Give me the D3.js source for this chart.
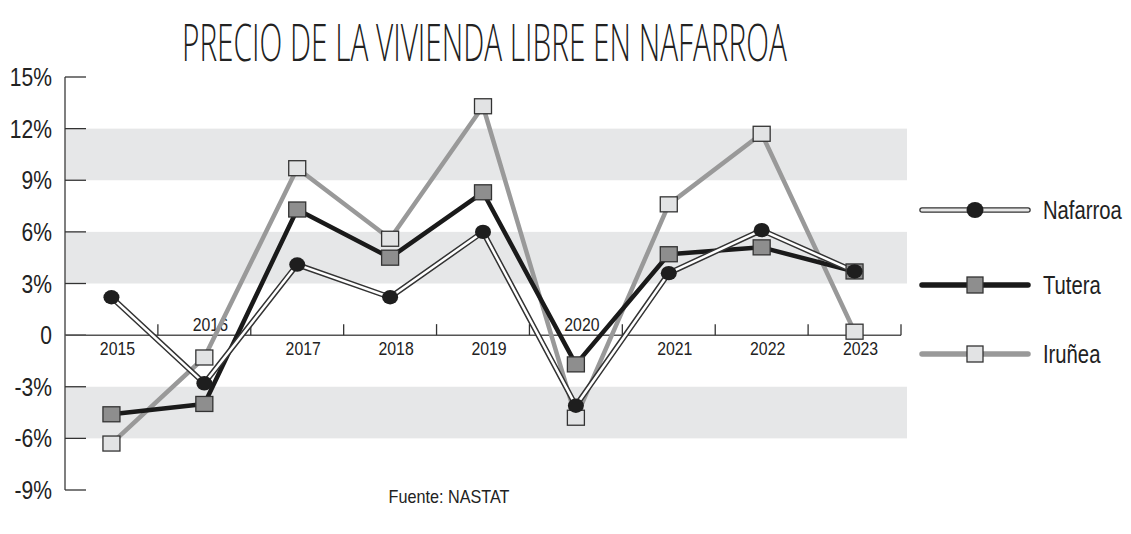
<!DOCTYPE html>
<html>
<head>
<meta charset="utf-8">
<script src="https://cdn.jsdelivr.net/npm/d3@7"></script>
<style>
  body { margin: 0; background: #fff; }
  text { font-family: "Liberation Sans", Arial, sans-serif; fill: #222; }
</style>
</head>
<body>
<svg id="chart" width="1131" height="534"></svg>
<script>
// datos
const years = ["2015","2016","2017","2018","2019","2020","2021","2022","2023"];
const nafarroa = [2.2, -2.8, 4.1, 2.2, 6.0, -4.1, 3.6, 6.1, 3.7];
const tutera   = [-4.6, -4.0, 7.3, 4.5, 8.3, -1.7, 4.7, 5.1, 3.7];
const irunea   = [-6.3, -1.3, 9.7, 5.6, 13.3, -4.8, 7.6, 11.7, 0.2];
const yTicks = [15, 12, 9, 6, 3, 0, -3, -6, -9];
const yTickLabels = ["15%","12%","9%","6%","3%","0","-3%","-6%","-9%"];
const bands = [[9, 12], [3, 6], [-6, -3]];
const labelsAbove = ["2016", "2020"];
const seriesNames = ["Nafarroa", "Tutera", "Iruñea"];

const svg = d3.select("#chart");
const narrow = 0.81; // letra estrecha

const x = d3.scaleBand().domain(years).range([65, 901]).padding(0);
const y = d3.scaleLinear().domain([-9, 15]).range([490, 77]);
const cx = d => x(d) + x.bandwidth() / 2;

// franjas grises
svg.selectAll("rect.band").data(bands).enter().append("rect")
  .attr("class", "band")
  .attr("x", 65).attr("width", 907 - 65)
  .attr("y", d => y(d[1])).attr("height", d => y(d[0]) - y(d[1]))
  .attr("fill", "#e6e7e8");

// eje y
svg.append("line").attr("x1", 65).attr("x2", 65).attr("y1", y(15)).attr("y2", y(-9))
  .attr("stroke", "#555").attr("stroke-width", 1.5);
svg.selectAll("line.ytick").data(yTicks).enter().append("line")
  .attr("x1", 65).attr("x2", 86).attr("y1", d => y(d)).attr("y2", d => y(d))
  .attr("stroke", "#333").attr("stroke-width", 1.3);
svg.selectAll("text.ylab").data(yTicks).enter().append("text")
  .attr("transform", d => `translate(52,${y(d) + 9}) scale(${narrow},1)`)
  .attr("text-anchor", "end").attr("font-size", 26)
  .text((d, i) => yTickLabels[i]);

// eje x
svg.append("line").attr("x1", 65).attr("x2", 901).attr("y1", y(0)).attr("y2", y(0))
  .attr("stroke", "#555").attr("stroke-width", 1.5);
svg.selectAll("line.xtick").data(years).enter().append("line")
  .attr("x1", d => x(d) + x.bandwidth()).attr("x2", d => x(d) + x.bandwidth())
  .attr("y1", y(0)).attr("y2", y(0) - 11)
  .attr("stroke", "#333").attr("stroke-width", 1.3);
svg.selectAll("text.xlab").data(years).enter().append("text")
  .attr("transform", d => `translate(${cx(d) + 6},${labelsAbove.includes(d) ? y(0) - 4 : y(0) + 20}) scale(0.88,1)`)
  .attr("text-anchor", "middle").attr("font-size", 18)
  .text(d => d);

// lineas
const line = vals => d3.line().x((d, i) => cx(years[i])).y(d => y(d))(vals);

svg.append("path").attr("d", line(irunea)).attr("fill", "none")
  .attr("stroke", "#999").attr("stroke-width", 4.5).attr("stroke-linejoin", "round");
svg.append("path").attr("d", line(tutera)).attr("fill", "none")
  .attr("stroke", "#1a1a1a").attr("stroke-width", 4.5).attr("stroke-linejoin", "round");
svg.append("path").attr("d", line(nafarroa)).attr("fill", "none")
  .attr("stroke", "#333").attr("stroke-width", 5.5).attr("stroke-linejoin", "round");
svg.append("path").attr("d", line(nafarroa)).attr("fill", "none")
  .attr("stroke", "#fff").attr("stroke-width", 2.5).attr("stroke-linejoin", "round");

// marcadores
function squares(vals, fill) {
  svg.selectAll(null).data(vals).enter().append("rect")
    .attr("x", (d, i) => cx(years[i]) - 8.5).attr("y", d => y(d) - 7.5)
    .attr("width", 17).attr("height", 15)
    .attr("fill", fill).attr("stroke", "#333").attr("stroke-width", 1.3);
}
squares(irunea, "#e2e3e4");
squares(tutera, "#8e8e8e");
svg.selectAll(null).data(nafarroa).enter().append("ellipse")
  .attr("cx", (d, i) => cx(years[i])).attr("cy", d => y(d))
  .attr("rx", 8).attr("ry", 7.2).attr("fill", "#1e1e1e");

// leyenda
const legY = [210, 285, 354];
const lg = svg.append("g");
// Nafarroa
lg.append("line").attr("x1", 922).attr("x2", 1028).attr("y1", legY[0]).attr("y2", legY[0])
  .attr("stroke", "#333").attr("stroke-width", 5.5).attr("stroke-linecap", "round");
lg.append("line").attr("x1", 922).attr("x2", 1028).attr("y1", legY[0]).attr("y2", legY[0])
  .attr("stroke", "#e8e8e8").attr("stroke-width", 3).attr("stroke-linecap", "round");
lg.append("ellipse").attr("cx", 975).attr("cy", legY[0]).attr("rx", 8.5).attr("ry", 8).attr("fill", "#1e1e1e");
// Tutera
lg.append("line").attr("x1", 922).attr("x2", 1028).attr("y1", legY[1]).attr("y2", legY[1])
  .attr("stroke", "#1a1a1a").attr("stroke-width", 5.5).attr("stroke-linecap", "round");
lg.append("rect").attr("x", 967).attr("y", legY[1] - 8).attr("width", 16).attr("height", 16)
  .attr("fill", "#8e8e8e").attr("stroke", "#333").attr("stroke-width", 1.3);
// Iruñea
lg.append("line").attr("x1", 922).attr("x2", 1028).attr("y1", legY[2]).attr("y2", legY[2])
  .attr("stroke", "#999").attr("stroke-width", 5.5).attr("stroke-linecap", "round");
lg.append("rect").attr("x", 967).attr("y", legY[2] - 8).attr("width", 16).attr("height", 16)
  .attr("fill", "#e2e3e4").attr("stroke", "#333").attr("stroke-width", 1.3);
lg.selectAll("text").data(seriesNames).enter().append("text")
  .attr("transform", (d, i) => `translate(1043,${legY[i] + 9}) scale(${narrow},1)`)
  .attr("font-size", 25).text(d => d);

// titulo: se mide y se estrecha hasta 605px
const title = svg.append("text")
  .style("font-family", "'Open Sans', 'Liberation Sans', sans-serif").style("font-weight", 300)
  .attr("font-size", 52)
  .text("PRECIO DE LA VIVIENDA LIBRE EN NAFARROA");
const tw = title.node().getComputedTextLength();
title.attr("transform", `translate(182,61) scale(${605 / tw},1)`);

// fuente
svg.append("text")
  .attr("text-anchor", "middle")
  .attr("transform", "translate(449,503) scale(0.9,1)")
  .attr("font-size", 18)
  .text("Fuente: NASTAT");
</script>
</body>
</html>
